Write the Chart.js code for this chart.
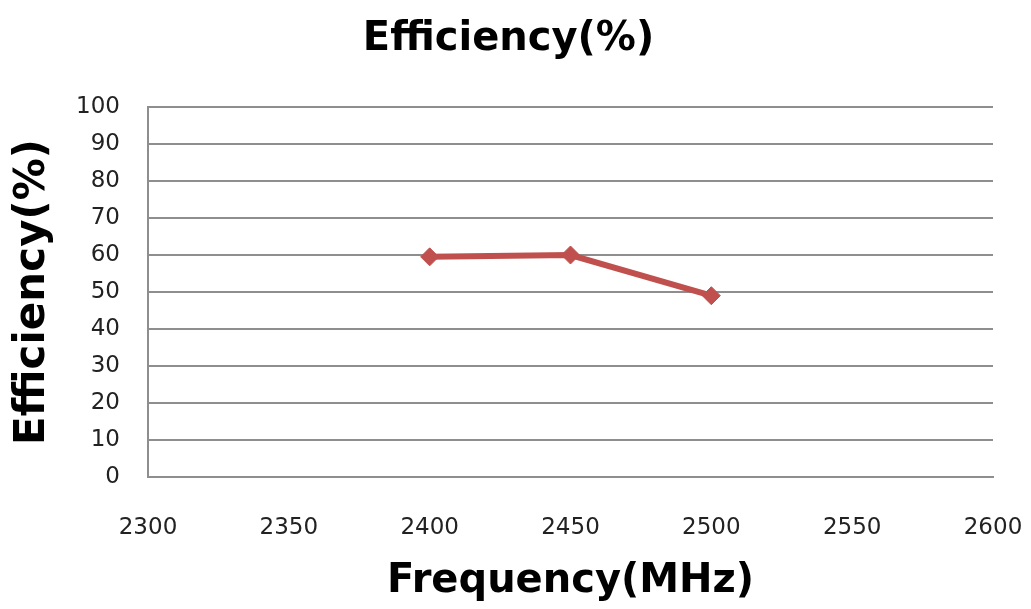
<!DOCTYPE html>
<html>
<head>
<meta charset="utf-8">
<title>Efficiency(%)</title>
<script src="https://cdn.jsdelivr.net/npm/chart.js@4.4.1/dist/chart.umd.min.js"></script>
<style>
  html, body { margin: 0; padding: 0; background: #fff; }
  #wrap { width: 1031px; height: 609px; position: relative; }
</style>
</head>
<body>
<div id="wrap"><canvas id="eff-chart"></canvas></div>
<script>
// --- data ---
const FREQUENCY_MHZ = [2400, 2450, 2500];
const EFFICIENCY_PCT = [59.5, 60, 49];
const X_TICKS = { min: 2300, max: 2600, step: 50 };
const Y_TICKS = { min: 0, max: 100, step: 10 };

const CHART_TITLE = 'Efficiency(%)';
const X_TITLE = 'Frequency(MHz)';
const Y_TITLE = 'Efficiency(%)';

const LINE_COLOR = '#c0504d';
const GRID_COLOR = '#8e8e8e';
const TICK_COLOR = '#222222';

const CANVAS = document.getElementById('eff-chart');

new Chart(CANVAS, {
    type: 'line',
    data: {
        datasets: [{
            label: Y_TITLE,
            data: FREQUENCY_MHZ.map((f, i) => ({ x: f, y: EFFICIENCY_PCT[i] })),
            borderColor: LINE_COLOR,
            backgroundColor: LINE_COLOR,
            borderWidth: 6,
            pointStyle: 'rectRot',
            pointRadius: 9,
            pointBorderWidth: 1,
            pointBackgroundColor: LINE_COLOR,
            pointBorderColor: LINE_COLOR,
            tension: 0,
            fill: false
        }]
    },
    options: {
        responsive: true,
        maintainAspectRatio: false,
        animation: false,
        // small right padding keeps the title centred like the original
        layout: { padding: { left: 0, right: 14, top: 0, bottom: 0 } },
        plugins: {
            legend: { display: false },
            tooltip: { enabled: false },
            title: {
                display: true,
                text: CHART_TITLE,
                color: '#000',
                font: { family: 'DejaVu Sans', size: 40, weight: 'bold' },
                padding: { top: 16, bottom: 43 }
            }
        },
        scales: {
            x: {
                type: 'linear',
                min: X_TICKS.min,
                max: X_TICKS.max,
                ticks: {
                    stepSize: X_TICKS.step,
                    color: TICK_COLOR,
                    font: { family: 'DejaVu Sans', size: 23 },
                    padding: 29,
                    maxRotation: 0,
                    autoSkip: false,
                    callback: (v) => String(v)
                },
                grid: { display: false },
                border: { display: true, color: GRID_COLOR, width: 2 },
                title: {
                    display: true,
                    text: X_TITLE,
                    color: '#000',
                    font: { family: 'DejaVu Sans', size: 40, weight: 'bold' },
                    padding: { top: 0, bottom: 3 }
                },
                // fixed axis height and side margins (plot right edge ~38px from the border)
                afterFit: (scale) => {
                    scale.height = 132;
                    scale.paddingLeft = 0;
                    scale.paddingRight = 38;
                }
            },
            y: {
                type: 'linear',
                min: Y_TICKS.min,
                max: Y_TICKS.max,
                ticks: {
                    stepSize: Y_TICKS.step,
                    color: TICK_COLOR,
                    font: { family: 'DejaVu Sans', size: 23 },
                    padding: 28
                },
                grid: { color: GRID_COLOR, lineWidth: 2, drawTicks: false },
                border: { display: true, color: GRID_COLOR, width: 2 },
                title: {
                    display: true,
                    text: Y_TITLE,
                    color: '#000',
                    font: { family: 'DejaVu Sans', size: 42, weight: 'bold' },
                    padding: { top: 8, bottom: 0 }
                },
                afterFit: (scale) => { scale.width = 148; }
            }
        }
    }
});
</script>
</body>
</html>
